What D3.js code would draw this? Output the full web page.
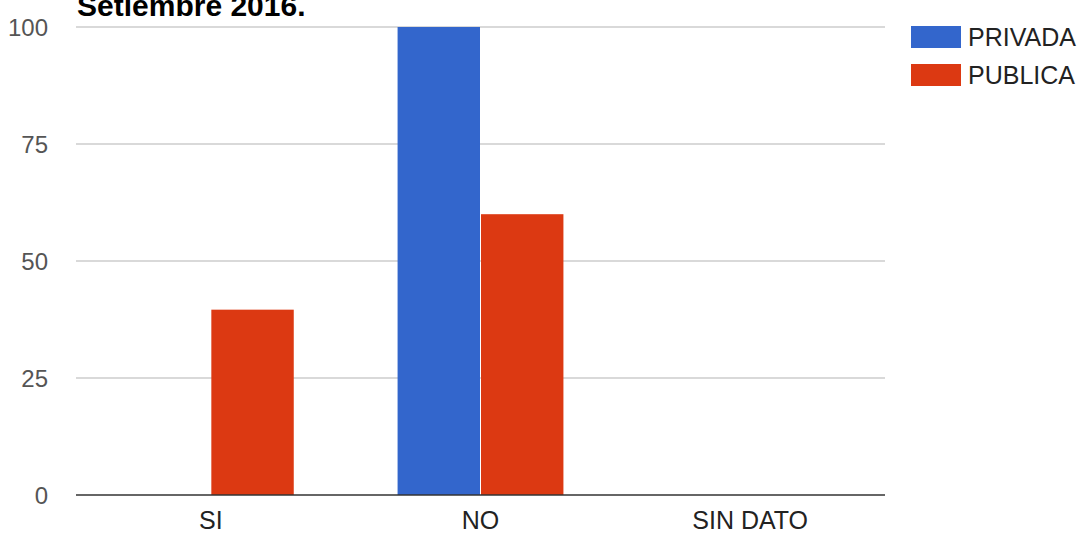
<!DOCTYPE html>
<html>
<head>
<meta charset="utf-8">
<script src="https://cdn.jsdelivr.net/npm/d3@7"></script>
<style>
	body { margin: 0; background: #fff; }
	svg { display: block; font-family: Arial, "Liberation Sans", sans-serif; }
</style>
</head>
<body>
<div id="chart"></div>
<script>
// chart data
var categories = ["SI", "NO", "SIN DATO"];
var series = ["PRIVADA", "PUBLICA"];
var privada = [0, 100, 0];
var publica = [39.6, 60, 0];
var yTicks = [0, 25, 50, 75, 100];
var colors = ["#3366cc", "#dc3912"];

var w = 1085,
	h = 533,
	plotLeft = 76,
	plotRight = 885,
	plotTop = 27,
	plotBottom = 495;

var svg = d3.select("#chart")
	.append("svg")
	.attr("width", w)
	.attr("height", h);

var x = d3.scaleBand().domain(categories)
	.range([plotLeft, plotRight])
	.paddingInner(0.385)
	.paddingOuter(0.1925);

var xs = d3.scaleBand().domain(series)
	.range([0, x.bandwidth()])
	.paddingInner(0.012);

var y = d3.scaleLinear().domain([0, 100]).range([plotBottom, plotTop]);

// title (cut off at top)
svg.append("text")
	.attr("x", 77)
	.attr("y", 16)
	.attr("font-size", "30px")
	.attr("font-weight", "bold")
	.attr("fill", "#000")
	.text("Setiembre 2016.");

// gridlines
svg.selectAll("line.grid")
	.data(yTicks.filter(function(d) { return d > 0; }))
	.enter().append("line")
	.attr("class", "grid")
	.attr("x1", plotLeft)
	.attr("x2", plotRight)
	.attr("y1", function(d) { return y(d); })
	.attr("y2", function(d) { return y(d); })
	.attr("stroke", "#cccccc")
	.attr("stroke-width", 1.5);

// y labels
svg.selectAll("text.ytick")
	.data(yTicks)
	.enter().append("text")
	.attr("class", "ytick")
	.attr("x", 48)
	.attr("y", function(d) { return y(d) + 9; })
	.attr("text-anchor", "end")
	.attr("font-size", "24px")
	.attr("fill", "#555")
	.text(function(d) { return d; });

// bars
var data = categories.map(function(c, i) {
	return [privada[i], publica[i]];
});

var groups = svg.selectAll("g.cat")
	.data(data)
	.enter().append("g")
	.attr("class", "cat")
	.attr("transform", function(d, i) {
		return "translate(" + x(categories[i]) + ",0)";
	});

groups.selectAll("rect")
	.data(function(d) { return d; })
	.enter().append("rect")
	.attr("x", function(d, i) { return xs(series[i]); })
	.attr("y", function(d) { return y(d); })
	.attr("width", xs.bandwidth())
	.attr("height", function(d) { return plotBottom - y(d); })
	.attr("fill", function(d, i) { return colors[i]; });

// baseline
svg.append("line")
	.attr("x1", plotLeft)
	.attr("x2", plotRight)
	.attr("y1", y(0))
	.attr("y2", y(0))
	.attr("stroke", "#333")
	.attr("stroke-width", 1.5);

// x labels
svg.selectAll("text.xtick")
	.data(categories)
	.enter().append("text")
	.attr("class", "xtick")
	.attr("x", function(d) { return x(d) + x.bandwidth() / 2; })
	.attr("y", 529)
	.attr("text-anchor", "middle")
	.attr("font-size", "25px")
	.attr("fill", "#222")
	.text(function(d) { return d; });

// legend
var legend = svg.selectAll("g.legend")
	.data(series)
	.enter().append("g")
	.attr("class", "legend")
	.attr("transform", function(d, i) {
		return "translate(911," + (26 + i * 38) + ")";
	});

legend.append("rect")
	.attr("width", 50)
	.attr("height", 22)
	.attr("fill", function(d, i) { return colors[i]; });

legend.append("text")
	.attr("x", 57)
	.attr("y", 20)
	.attr("font-size", "25px")
	.attr("fill", "#222")
	.text(function(d) { return d; });
</script>
</body>
</html>
